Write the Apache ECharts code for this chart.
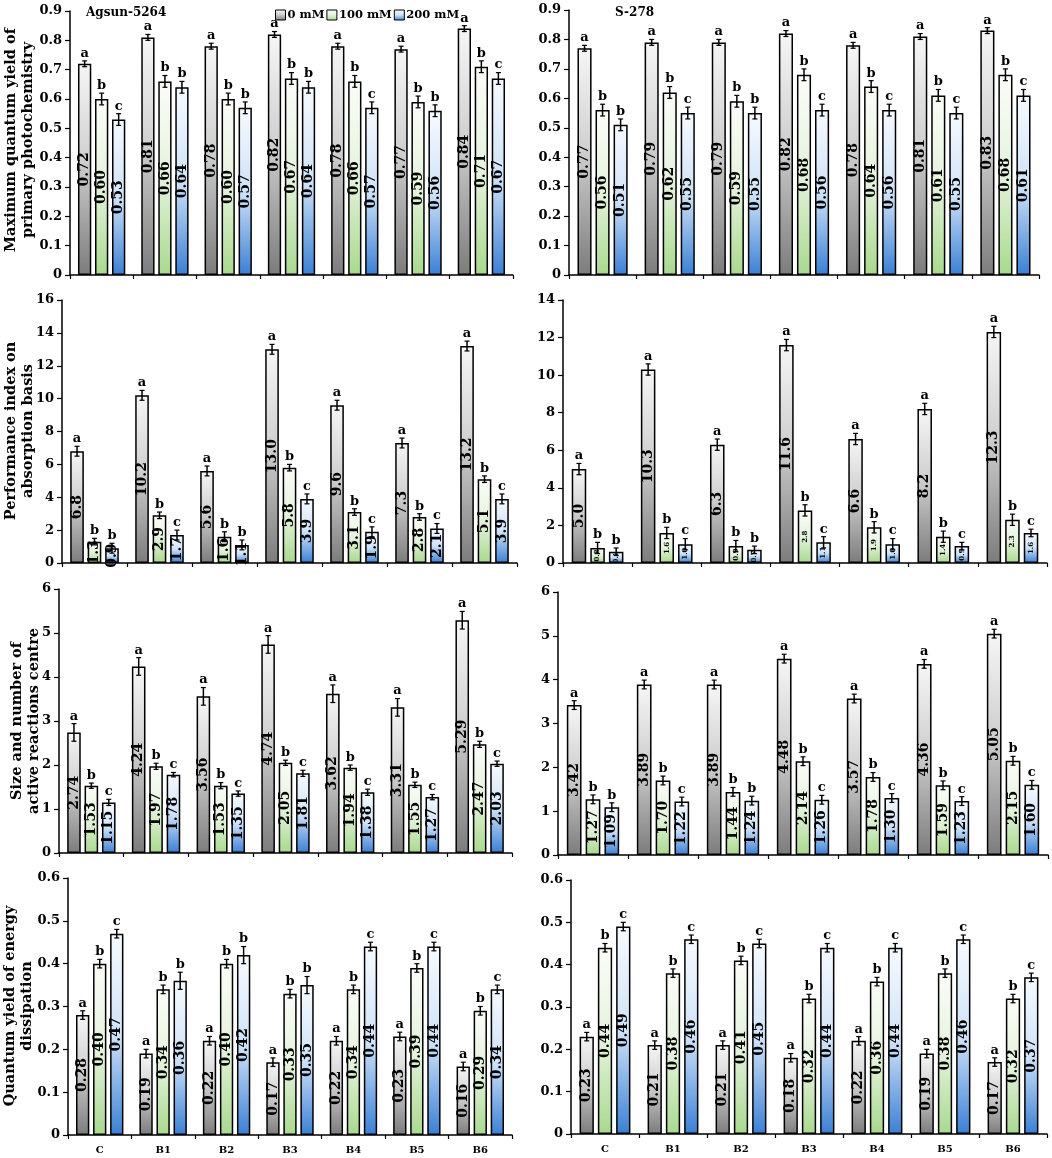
<!DOCTYPE html>
<html><head><meta charset="utf-8">
<script src="https://cdn.jsdelivr.net/npm/echarts@6.0.0/dist/echarts.min.js"></script>
<style>html,body{margin:0;padding:0;background:#fff}#c{width:1052px;height:1158px}</style>
</head><body><div id="c"></div>
<script>
var categories = ['C','B1','B2','B3','B4','B5','B6'];
var seriesNames = ['0 mM','100 mM','200 mM'];

// Row 1: Maximum quantum yield of primary photochemistry
var fvfmA_0 = [0.72,0.81,0.78,0.82,0.78,0.77,0.84];
var fvfmA_100 = [0.60,0.66,0.60,0.67,0.66,0.59,0.71];
var fvfmA_200 = [0.53,0.64,0.57,0.64,0.57,0.56,0.67];
var fvfmA_err0 = [0.01,0.01,0.01,0.01,0.01,0.01,0.01];
var fvfmA_err100 = [0.02,0.02,0.02,0.02,0.02,0.02,0.02];
var fvfmA_err200 = [0.02,0.02,0.02,0.02,0.02,0.02,0.02];
var fvfmA_letters = ['abc','abb','abb','abb','abc','abb','abc'];

var fvfmS_0 = [0.77,0.79,0.79,0.82,0.78,0.81,0.83];
var fvfmS_100 = [0.56,0.62,0.59,0.68,0.64,0.61,0.68];
var fvfmS_200 = [0.51,0.55,0.55,0.56,0.56,0.55,0.61];
var fvfmS_err0 = [0.01,0.01,0.01,0.01,0.01,0.01,0.01];
var fvfmS_err100 = [0.02,0.02,0.02,0.02,0.02,0.02,0.02];
var fvfmS_err200 = [0.02,0.02,0.02,0.02,0.02,0.02,0.02];
var fvfmS_letters = ['abb','abc','abb','abc','abc','abc','abc'];

// Row 2: Performance index on absorption basis
var piA_0 = [6.8,10.2,5.6,13.0,9.6,7.3,13.2];
var piA_100 = [1.3,2.9,1.6,5.8,3.1,2.8,5.1];
var piA_200 = [0.9,1.7,1.1,3.9,1.9,2.1,3.9];
var piA_err0 = [0.3,0.3,0.3,0.3,0.3,0.3,0.3];
var piA_err100 = [0.2,0.2,0.3,0.2,0.2,0.2,0.2];
var piA_err200 = [0.3,0.3,0.3,0.3,0.3,0.3,0.3];
var piA_letters = ['abb','abc','abb','abc','abc','abc','abc'];

var piS_0 = [5.0,10.3,6.3,11.6,6.6,8.2,12.3];
var piS_100 = [0.8,1.6,0.9,2.8,1.9,1.4,2.3];
var piS_200 = [0.6,1.0,0.7,1.1,1.0,0.9,1.6];
var piS_err0 = [0.3,0.3,0.3,0.3,0.3,0.3,0.3];
var piS_err100 = [0.3,0.3,0.3,0.3,0.3,0.3,0.3];
var piS_err200 = [0.2,0.3,0.2,0.3,0.3,0.2,0.2];
var piS_letters = ['abb','abc','abb','abc','abc','abc','abc'];

// Row 3: Size and number of active reactions centre
var rcA_0 = [2.74,4.24,3.56,4.74,3.62,3.31,5.29];
var rcA_100 = [1.53,1.97,1.53,2.05,1.94,1.55,2.47];
var rcA_200 = [1.15,1.78,1.35,1.81,1.38,1.27,2.03];
var rcA_err0 = [0.2,0.2,0.2,0.2,0.2,0.2,0.2];
var rcA_err100 = [0.06,0.07,0.07,0.06,0.06,0.06,0.07];
var rcA_err200 = [0.07,0.05,0.06,0.07,0.07,0.06,0.06];
var rcA_letters = ['abc','abc','abc','abc','abc','abc','abc'];

var rcS_0 = [3.42,3.89,3.89,4.48,3.57,4.36,5.05];
var rcS_100 = [1.27,1.70,1.44,2.14,1.78,1.59,2.15];
var rcS_200 = [1.09,1.22,1.24,1.26,1.30,1.23,1.60];
var rcS_err0 = [0.1,0.1,0.1,0.1,0.1,0.1,0.1];
var rcS_err100 = [0.1,0.1,0.1,0.1,0.1,0.1,0.1];
var rcS_err200 = [0.1,0.1,0.1,0.1,0.1,0.1,0.1];
var rcS_letters = ['abb','abc','abb','abc','abc','abc','abc'];

// Row 4: Quantum yield of energy dissipation
var diA_0 = [0.28,0.19,0.22,0.17,0.22,0.23,0.16];
var diA_100 = [0.40,0.34,0.40,0.33,0.34,0.39,0.29];
var diA_200 = [0.47,0.36,0.42,0.35,0.44,0.44,0.34];
var diA_err0 = [0.01,0.01,0.01,0.01,0.01,0.01,0.01];
var diA_err100 = [0.01,0.01,0.01,0.01,0.01,0.01,0.01];
var diA_err200 = [0.01,0.02,0.02,0.02,0.01,0.01,0.01];
var diA_letters = ['abc','abb','abb','abb','abc','abc','abc'];

var diS_0 = [0.23,0.21,0.21,0.18,0.22,0.19,0.17];
var diS_100 = [0.44,0.38,0.41,0.32,0.36,0.38,0.32];
var diS_200 = [0.49,0.46,0.45,0.44,0.44,0.46,0.37];
var diS_err0 = [0.01,0.01,0.01,0.01,0.01,0.01,0.01];
var diS_err100 = [0.01,0.01,0.01,0.01,0.01,0.01,0.01];
var diS_err200 = [0.01,0.01,0.01,0.01,0.01,0.01,0.01];
var diS_letters = ['abc','abc','abc','abc','abc','abc','abc'];

var FONT = '"DejaVu Serif", "Liberation Serif", serif';
var BW = 0.21, BG = 0.28;

var panels = [
  {g:{left:70,top:11,width:443,height:264}, max:0.9, interval:0.1, dec:2, vals:[fvfmA_0,fvfmA_100,fvfmA_200], errs:[fvfmA_err0,fvfmA_err100,fvfmA_err200], letters:fvfmA_letters, showX:false, lblSize:[14,14,14]},
  {g:{left:569,top:10,width:470,height:265}, max:0.9, interval:0.1, dec:2, vals:[fvfmS_0,fvfmS_100,fvfmS_200], errs:[fvfmS_err0,fvfmS_err100,fvfmS_err200], letters:fvfmS_letters, showX:false, lblSize:[14,14,14]},
  {g:{left:62,top:300,width:455,height:263}, max:16, interval:2, dec:1, vals:[piA_0,piA_100,piA_200], errs:[piA_err0,piA_err100,piA_err200], letters:piA_letters, showX:false, lblSize:[14,14,14]},
  {g:{left:563,top:300,width:484,height:263}, max:14, interval:2, dec:1, vals:[piS_0,piS_100,piS_200], errs:[piS_err0,piS_err100,piS_err200], letters:piS_letters, showX:false, lblSize:[14,7,7]},
  {g:{left:59,top:589,width:453,height:264}, max:6, interval:1, dec:2, vals:[rcA_0,rcA_100,rcA_200], errs:[rcA_err0,rcA_err100,rcA_err200], letters:rcA_letters, showX:false, lblSize:[14,14,14]},
  {g:{left:558,top:592,width:490,height:263}, max:6, interval:1, dec:2, vals:[rcS_0,rcS_100,rcS_200], errs:[rcS_err0,rcS_err100,rcS_err200], letters:rcS_letters, showX:false, lblSize:[14,14,14]},
  {g:{left:68,top:878,width:444,height:257}, max:0.6, interval:0.1, dec:2, vals:[diA_0,diA_100,diA_200], errs:[diA_err0,diA_err100,diA_err200], letters:diA_letters, showX:true, lblSize:[14,14,14]},
  {g:{left:571,top:880,width:476,height:254}, max:0.6, interval:0.1, dec:2, vals:[diS_0,diS_100,diS_200], errs:[diS_err0,diS_err100,diS_err200], letters:diS_letters, showX:true, lblSize:[14,14,14]}
];

var yTitles = [
  {text:'Maximum quantum yield of\nprimary photochemistry', x:20, y:140},
  {text:'Performance index on\nabsorption basis', x:20, y:431},
  {text:'Size and number of\nactive reactions centre', x:26, y:721},
  {text:'Quantum yield of energy\ndissipation', x:19, y:1006}
];

function grad(stops){
  return new echarts.graphic.LinearGradient(0,0,0,1, stops.map(function(s){return {offset:s[0], color:s[1]};}));
}
var fills = [
  grad([[0,'#f6f6f6'],[0.45,'#d0d0d0'],[1,'#7c7c7c']]),
  grad([[0,'#fbfdf8'],[0.5,'#e4f3dc'],[1,'#a8d98d']]),
  grad([[0,'#f6faff'],[0.5,'#cfe3f8'],[1,'#3a80d5']])
];

var grids = [], xAxes = [], yAxes = [], series = [];
panels.forEach(function(p, pi){
  grids.push(p.g);
  xAxes.push({type:'category', gridIndex:pi, data:categories,
    axisLine:{lineStyle:{color:'#000', width:1.5}},
    axisTick:{show:true, length:4, lineStyle:{color:'#000', width:1.2}},
    axisLabel:{show:p.showX, color:'#000', fontFamily:FONT, fontWeight:'bold', fontSize:10, margin:10}
  });
  yAxes.push({type:'value', gridIndex:pi, min:0, max:p.max, interval:p.interval,
    axisLine:{show:true, lineStyle:{color:'#000', width:1.5}},
    axisTick:{show:true, length:5, lineStyle:{color:'#000', width:1.2}},
    splitLine:{show:false},
    axisLabel:{color:'#000', fontFamily:FONT, fontWeight:'bold', fontSize:13, margin:8,
      formatter:function(v){ if (v===0) return '0'; return p.interval<1 ? v.toFixed(1) : String(Math.round(v)); }}
  });
  for (var s=0; s<3; s++){
    (function(s){
      series.push({type:'bar', name:seriesNames[s], xAxisIndex:pi, yAxisIndex:pi,
        data:p.vals[s], barWidth:(BW*100)+'%', barGap:(BG*100)+'%',
        itemStyle:{color:fills[s], borderColor:'#000', borderWidth:1.5},
        label:{show:true, position:'inside', rotate:90, color:'#000', fontFamily:FONT, fontWeight:'bold',
          fontSize:p.lblSize[s], formatter:function(d){ return d.value.toFixed(p.dec); }},
        emphasis:{disabled:true}, silent:true
      });
      var errs = p.errs[s], lets = p.letters;
      series.push({type:'custom', xAxisIndex:pi, yAxisIndex:pi, z:10, silent:true,
        data:p.vals[s].map(function(v,i){ return [i, v, errs[i]]; }),
        renderItem:function(params, api){
          var ci = api.value(0), v = api.value(1), e = api.value(2);
          var band = api.size([1,0])[0];
          var w = band*BW, off = (s-1)*w*(1+BG);
          var top = api.coord([ci, v+e]), bot = api.coord([ci, v-e]);
          var x = top[0]+off, cap = 2.5;
          var letter = lets[params.dataIndex].charAt(s);
          return {type:'group', children:[
            {type:'line', shape:{x1:x,y1:top[1],x2:x,y2:bot[1]}, style:{stroke:'#000', lineWidth:1.5}},
            {type:'line', shape:{x1:x-cap,y1:top[1],x2:x+cap,y2:top[1]}, style:{stroke:'#000', lineWidth:1.2}},
            {type:'line', shape:{x1:x-cap,y1:bot[1],x2:x+cap,y2:bot[1]}, style:{stroke:'#000', lineWidth:1.2}},
            {type:'text', style:{text:letter, x:x, y:top[1]-1, textAlign:'center', textVerticalAlign:'bottom', align:'center', verticalAlign:'bottom',
              font:'bold 13px '+FONT, fill:'#000'}}
          ]};
        }
      });
    })(s);
  }
});

var graphics = [
  {type:'text', x:86, y:13, style:{text:'Agsun-5264', font:'bold 12px '+FONT, fill:'#000', textVerticalAlign:'middle', verticalAlign:'middle'}},
  {type:'text', x:615, y:13, style:{text:'S-278', font:'bold 12px '+FONT, fill:'#000', textVerticalAlign:'middle', verticalAlign:'middle'}}
];
yTitles.forEach(function(t){
  graphics.push({type:'text', x:t.x, y:t.y, rotation:Math.PI/2,
    style:{text:t.text, font:'bold 14.5px '+FONT, fill:'#000', textAlign:'center', textVerticalAlign:'middle', align:'center', verticalAlign:'middle', lineHeight:17}});
});

var chart = echarts.init(document.getElementById('c'), null, {renderer:'canvas'});
chart.setOption({
  animation:false,
  backgroundColor:'#fff',
  legend:{data:seriesNames, left:270, top:4, itemWidth:10, itemHeight:10, itemGap:2, icon:'rect',
    itemStyle:{borderColor:'#000', borderWidth:1},
    textStyle:{color:'#000', fontFamily:FONT, fontWeight:'bold', fontSize:11.5, padding:[0,0,0,-3]}},
  grid:grids, xAxis:xAxes, yAxis:yAxes, series:series, graphic:graphics
});
</script></body></html>
